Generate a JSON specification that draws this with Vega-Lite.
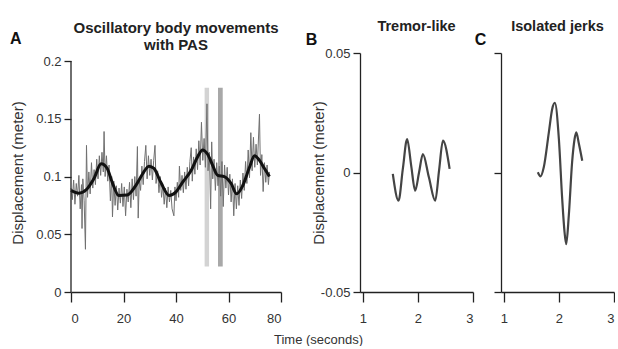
{
  "$schema": "https://vega.github.io/schema/vega-lite/v6.json",
  "padding": {"left": 10, "top": 18, "right": 0, "bottom": 0},
  "background": "white",
  "bounds": "flush",
  "spacing": 79,
  "datasets": {
    "bars": [
      {"t0": 50.9, "t1": 52.6, "lo": 0.022, "hi": 0.177, "shade": "light"},
      {"t0": 56.0, "t1": 57.8, "lo": 0.022, "hi": 0.177, "shade": "dark"}
    ],
    "raw": [
      {"t": 0.0, "v": 0.090}, {"t": 0.5, "v": 0.080}, {"t": 1.0, "v": 0.097}, {"t": 1.5, "v": 0.076}, {"t": 2.0, "v": 0.094},
      {"t": 2.5, "v": 0.083}, {"t": 3.0, "v": 0.101}, {"t": 3.5, "v": 0.072}, {"t": 4.0, "v": 0.093}, {"t": 4.2, "v": 0.055},
      {"t": 4.5, "v": 0.098}, {"t": 5.0, "v": 0.079}, {"t": 5.5, "v": 0.037}, {"t": 5.9, "v": 0.127}, {"t": 6.3, "v": 0.082},
      {"t": 6.8, "v": 0.104}, {"t": 7.3, "v": 0.085}, {"t": 7.8, "v": 0.112}, {"t": 8.3, "v": 0.090}, {"t": 8.8, "v": 0.106},
      {"t": 9.3, "v": 0.093}, {"t": 9.8, "v": 0.115}, {"t": 10.3, "v": 0.098}, {"t": 10.8, "v": 0.118}, {"t": 11.3, "v": 0.101},
      {"t": 11.8, "v": 0.121}, {"t": 12.3, "v": 0.104}, {"t": 12.6, "v": 0.139}, {"t": 13.0, "v": 0.100}, {"t": 13.5, "v": 0.118},
      {"t": 14.0, "v": 0.096}, {"t": 14.5, "v": 0.110}, {"t": 15.0, "v": 0.079}, {"t": 15.5, "v": 0.100}, {"t": 15.8, "v": 0.065},
      {"t": 16.3, "v": 0.096}, {"t": 16.8, "v": 0.075}, {"t": 17.3, "v": 0.092}, {"t": 17.8, "v": 0.071}, {"t": 18.3, "v": 0.090},
      {"t": 18.8, "v": 0.077}, {"t": 19.3, "v": 0.094}, {"t": 19.8, "v": 0.074}, {"t": 20.3, "v": 0.091}, {"t": 20.8, "v": 0.066},
      {"t": 21.3, "v": 0.089}, {"t": 21.8, "v": 0.078}, {"t": 22.3, "v": 0.095}, {"t": 22.8, "v": 0.073}, {"t": 23.3, "v": 0.098},
      {"t": 23.8, "v": 0.080}, {"t": 24.3, "v": 0.100}, {"t": 24.8, "v": 0.083}, {"t": 25.3, "v": 0.126}, {"t": 25.6, "v": 0.064},
      {"t": 26.0, "v": 0.096}, {"t": 26.5, "v": 0.088}, {"t": 27.0, "v": 0.109}, {"t": 27.5, "v": 0.093}, {"t": 28.0, "v": 0.113},
      {"t": 28.5, "v": 0.127}, {"t": 29.0, "v": 0.098}, {"t": 29.5, "v": 0.118}, {"t": 30.0, "v": 0.101}, {"t": 30.5, "v": 0.115},
      {"t": 31.0, "v": 0.097}, {"t": 31.5, "v": 0.114}, {"t": 32.0, "v": 0.127}, {"t": 32.4, "v": 0.094}, {"t": 33.0, "v": 0.105},
      {"t": 33.5, "v": 0.086}, {"t": 34.0, "v": 0.100}, {"t": 34.5, "v": 0.082}, {"t": 35.0, "v": 0.093}, {"t": 35.5, "v": 0.076},
      {"t": 36.0, "v": 0.090}, {"t": 36.5, "v": 0.073}, {"t": 37.0, "v": 0.091}, {"t": 37.5, "v": 0.078}, {"t": 38.0, "v": 0.088},
      {"t": 38.5, "v": 0.072}, {"t": 39.2, "v": 0.066}, {"t": 39.6, "v": 0.091}, {"t": 40.0, "v": 0.079}, {"t": 40.5, "v": 0.095},
      {"t": 41.0, "v": 0.082}, {"t": 41.3, "v": 0.109}, {"t": 41.8, "v": 0.088}, {"t": 42.3, "v": 0.101}, {"t": 42.8, "v": 0.086},
      {"t": 43.3, "v": 0.104}, {"t": 43.8, "v": 0.089}, {"t": 44.3, "v": 0.108}, {"t": 44.8, "v": 0.092}, {"t": 45.3, "v": 0.113},
      {"t": 45.8, "v": 0.125}, {"t": 46.2, "v": 0.096}, {"t": 46.7, "v": 0.117}, {"t": 47.2, "v": 0.102}, {"t": 47.7, "v": 0.124},
      {"t": 48.2, "v": 0.106}, {"t": 48.7, "v": 0.131}, {"t": 49.2, "v": 0.110}, {"t": 49.7, "v": 0.147}, {"t": 50.2, "v": 0.114},
      {"t": 50.7, "v": 0.133}, {"t": 51.2, "v": 0.108}, {"t": 51.8, "v": 0.163}, {"t": 52.2, "v": 0.105}, {"t": 52.7, "v": 0.121},
      {"t": 53.2, "v": 0.072}, {"t": 53.6, "v": 0.130}, {"t": 54.0, "v": 0.098}, {"t": 54.5, "v": 0.115}, {"t": 55.0, "v": 0.088},
      {"t": 55.5, "v": 0.112}, {"t": 56.0, "v": 0.092}, {"t": 56.5, "v": 0.109}, {"t": 57.0, "v": 0.083}, {"t": 57.5, "v": 0.113},
      {"t": 58.0, "v": 0.074}, {"t": 58.5, "v": 0.110}, {"t": 59.0, "v": 0.090}, {"t": 59.5, "v": 0.108}, {"t": 60.0, "v": 0.084},
      {"t": 60.5, "v": 0.102}, {"t": 61.0, "v": 0.078}, {"t": 61.5, "v": 0.098}, {"t": 62.0, "v": 0.066}, {"t": 62.5, "v": 0.094},
      {"t": 63.0, "v": 0.072}, {"t": 63.5, "v": 0.092}, {"t": 64.0, "v": 0.075}, {"t": 64.5, "v": 0.097}, {"t": 65.0, "v": 0.081},
      {"t": 65.5, "v": 0.103}, {"t": 66.0, "v": 0.088}, {"t": 66.5, "v": 0.113}, {"t": 67.0, "v": 0.094}, {"t": 67.5, "v": 0.123},
      {"t": 68.0, "v": 0.099}, {"t": 68.5, "v": 0.138}, {"t": 69.0, "v": 0.105}, {"t": 69.5, "v": 0.134}, {"t": 70.0, "v": 0.108},
      {"t": 70.5, "v": 0.128}, {"t": 71.0, "v": 0.110}, {"t": 71.8, "v": 0.154}, {"t": 72.2, "v": 0.101}, {"t": 72.7, "v": 0.119},
      {"t": 73.2, "v": 0.087}, {"t": 73.7, "v": 0.112}, {"t": 74.2, "v": 0.095}, {"t": 74.7, "v": 0.110}, {"t": 75.2, "v": 0.093},
      {"t": 75.6, "v": 0.104}
    ],
    "smooth": [
      {"t": 0, "v": 0.088}, {"t": 3, "v": 0.0856}, {"t": 6, "v": 0.089}, {"t": 8.7, "v": 0.098}, {"t": 11.5, "v": 0.111},
      {"t": 13.8, "v": 0.107}, {"t": 15.7, "v": 0.095}, {"t": 18.2, "v": 0.0836}, {"t": 21.4, "v": 0.084}, {"t": 24.6, "v": 0.092},
      {"t": 27.2, "v": 0.102}, {"t": 29.7, "v": 0.109}, {"t": 31.6, "v": 0.107}, {"t": 34.2, "v": 0.095}, {"t": 37.4, "v": 0.0836},
      {"t": 39.9, "v": 0.0865}, {"t": 42.5, "v": 0.095}, {"t": 45.7, "v": 0.105}, {"t": 48.2, "v": 0.117}, {"t": 50.1, "v": 0.123},
      {"t": 52.0, "v": 0.1195}, {"t": 54.0, "v": 0.1095}, {"t": 55.9, "v": 0.101}, {"t": 58.4, "v": 0.100}, {"t": 61.0, "v": 0.094},
      {"t": 63.1, "v": 0.085}, {"t": 65.4, "v": 0.092}, {"t": 68.0, "v": 0.108}, {"t": 69.9, "v": 0.118}, {"t": 71.8, "v": 0.114},
      {"t": 73.7, "v": 0.107}, {"t": 75.6, "v": 0.100}
    ],
    "tremor": [
      {"t": 1.545, "v": -0.0006}, {"t": 1.649, "v": -0.0118}, {"t": 1.727, "v": 0.0015}, {"t": 1.805, "v": 0.0140},
      {"t": 1.878, "v": 0.003}, {"t": 1.951, "v": -0.0076}, {"t": 2.021, "v": 0.0}, {"t": 2.091, "v": 0.0077},
      {"t": 2.2, "v": -0.002}, {"t": 2.315, "v": -0.0118}, {"t": 2.385, "v": 0.001}, {"t": 2.455, "v": 0.0133},
      {"t": 2.576, "v": 0.0015}
    ],
    "jerks": [
      {"t": 1.618, "v": 0.0001}, {"t": 1.667, "v": -0.0016}, {"t": 1.727, "v": 0.0023}, {"t": 1.818, "v": 0.0168},
      {"t": 1.879, "v": 0.0266}, {"t": 1.927, "v": 0.0291}, {"t": 2.0, "v": 0.014}, {"t": 2.06, "v": -0.011},
      {"t": 2.103, "v": -0.025}, {"t": 2.133, "v": -0.030}, {"t": 2.18, "v": -0.018}, {"t": 2.24, "v": 0.0043},
      {"t": 2.285, "v": 0.014}, {"t": 2.315, "v": 0.0168}, {"t": 2.364, "v": 0.0119}, {"t": 2.424, "v": 0.0049}
    ],
    "one": [{"n": 1}]
  },
  "hconcat": [
    {
      "width": 210,
      "height": 239,
      "title": {"text": ["Oscillatory body movements", "with PAS"], "offset": -22, "fontSize": 15},
      "layer": [
        {
          "data": {"name": "bars"},
          "mark": {"type": "rect"},
          "encoding": {
            "x": {"field": "t0", "type": "quantitative", "scale": {"domain": [0, 80], "nice": false, "zero": false},
                  "axis": {"values": [0, 20, 40, 60, 80], "title": null}},
            "x2": {"field": "t1"},
            "y": {"field": "lo", "type": "quantitative", "scale": {"domain": [0, 0.207], "nice": false, "zero": false},
                  "axis": {"values": [0, 0.05, 0.1, 0.15, 0.2], "format": "~g", "domain": false, "title": "Displacement (meter)", "titlePadding": 10.5}},
            "y2": {"field": "hi"},
            "color": {"field": "shade", "type": "nominal", "scale": {"domain": ["light", "dark"], "range": ["#d3d3d3", "#a8a8a8"]}, "legend": null}
          }
        },
        {
          "data": {"name": "raw"},
          "mark": {"type": "line", "color": "#707070", "strokeWidth": 1},
          "encoding": {
            "x": {"field": "t", "type": "quantitative"},
            "y": {"field": "v", "type": "quantitative"}
          }
        },
        {
          "data": {"name": "smooth"},
          "mark": {"type": "line", "color": "#111111", "strokeWidth": 3, "interpolate": "monotone"},
          "encoding": {
            "x": {"field": "t", "type": "quantitative"},
            "y": {"field": "v", "type": "quantitative"}
          }
        },
        {
          "data": {"name": "one"},
          "mark": {"type": "rule", "color": "#222222", "strokeWidth": 1.3},
          "encoding": {
            "x": {"datum": 0},
            "y": {"datum": 0},
            "y2": {"datum": 0.2}
          }
        },
        {
          "data": {"name": "one"},
          "mark": {"type": "text", "font": "Liberation Sans", "fontSize": 16, "fontWeight": "bold", "color": "#111111", "align": "center", "baseline": "middle"},
          "encoding": {
            "x": {"datum": -21},
            "y": {"datum": 0.219},
            "text": {"value": "A"}
          }
        }
      ]
    },
    {
      "bounds": "flush",
      "spacing": 28,
      "hconcat": [
        {
          "width": 113,
          "height": 239,
          "title": {"text": "Tremor-like", "offset": -2},
          "layer": [
            {
              "data": {"name": "tremor"},
              "mark": {"type": "line", "color": "#444444", "strokeWidth": 2.2, "interpolate": "monotone"},
              "encoding": {
                "x": {"field": "t", "type": "quantitative", "scale": {"domain": [0.95, 3], "nice": false, "zero": false},
                      "axis": {"values": [1, 2, 3], "format": "~g", "labelOverlap": false, "title": "Time (seconds)", "titleX": -42, "titleY": 51, "titleBaseline": "alphabetic", "titleAlign": "center", "titleFontSize": 13}},
                "y": {"field": "v", "type": "quantitative", "scale": {"domain": [-0.05, 0.05], "nice": false, "zero": false},
                      "axis": {"values": [-0.05, 0, 0.05], "labelExpr": "datum.value < 0 ? '-' + format(-datum.value, '~g') : format(datum.value, '~g')", "title": "Displacement (meter)", "titlePadding": -6}}
              }
            },
            {
              "data": {"name": "one"},
              "mark": {"type": "text", "font": "Liberation Sans", "fontSize": 16, "fontWeight": "bold", "color": "#111111", "align": "center", "baseline": "middle"},
              "encoding": {
                "x": {"datum": 0.07},
                "y": {"datum": 0.0554},
                "text": {"value": "B"}
              }
            }
          ]
        },
        {
          "width": 113,
          "height": 239,
          "title": {"text": "Isolated jerks", "offset": -2},
          "layer": [
            {
              "data": {"name": "jerks"},
              "mark": {"type": "line", "color": "#444444", "strokeWidth": 2.2, "interpolate": "monotone"},
              "encoding": {
                "x": {"field": "t", "type": "quantitative", "scale": {"domain": [0.95, 3], "nice": false, "zero": false},
                      "axis": {"values": [1, 2, 3], "format": "~g", "labelOverlap": false, "title": null}},
                "y": {"field": "v", "type": "quantitative", "scale": {"domain": [-0.05, 0.05], "nice": false, "zero": false},
                      "axis": {"values": [-0.05, 0, 0.05], "labels": false, "title": null}}
              }
            },
            {
              "data": {"name": "one"},
              "mark": {"type": "text", "font": "Liberation Sans", "fontSize": 16, "fontWeight": "bold", "color": "#111111", "align": "center", "baseline": "middle"},
              "encoding": {
                "x": {"datum": 0.58},
                "y": {"datum": 0.0554},
                "text": {"value": "C"}
              }
            }
          ]
        }
      ]
    }
  ],
  "config": {
    "view": {"stroke": null},
    "font": "Liberation Sans",
    "axis": {"grid": false, "domainColor": "#222222", "tickColor": "#222222", "domainWidth": 1.3, "tickWidth": 1.3,
             "labelFont": "Liberation Sans", "labelFontSize": 13, "labelColor": "#333333",
             "titleFont": "Liberation Sans", "titleFontSize": 15, "titleFontWeight": "normal", "titleColor": "#333333"},
    "axisX": {"tickSize": 10, "labelPadding": 10, "labelAngle": 0},
    "axisY": {"tickSize": 7, "labelPadding": 3},
    "title": {"font": "Liberation Sans", "fontSize": 14.5, "fontWeight": "bold", "color": "#222222", "anchor": "middle", "baseline": "bottom", "lineHeight": 17}
  }
}
